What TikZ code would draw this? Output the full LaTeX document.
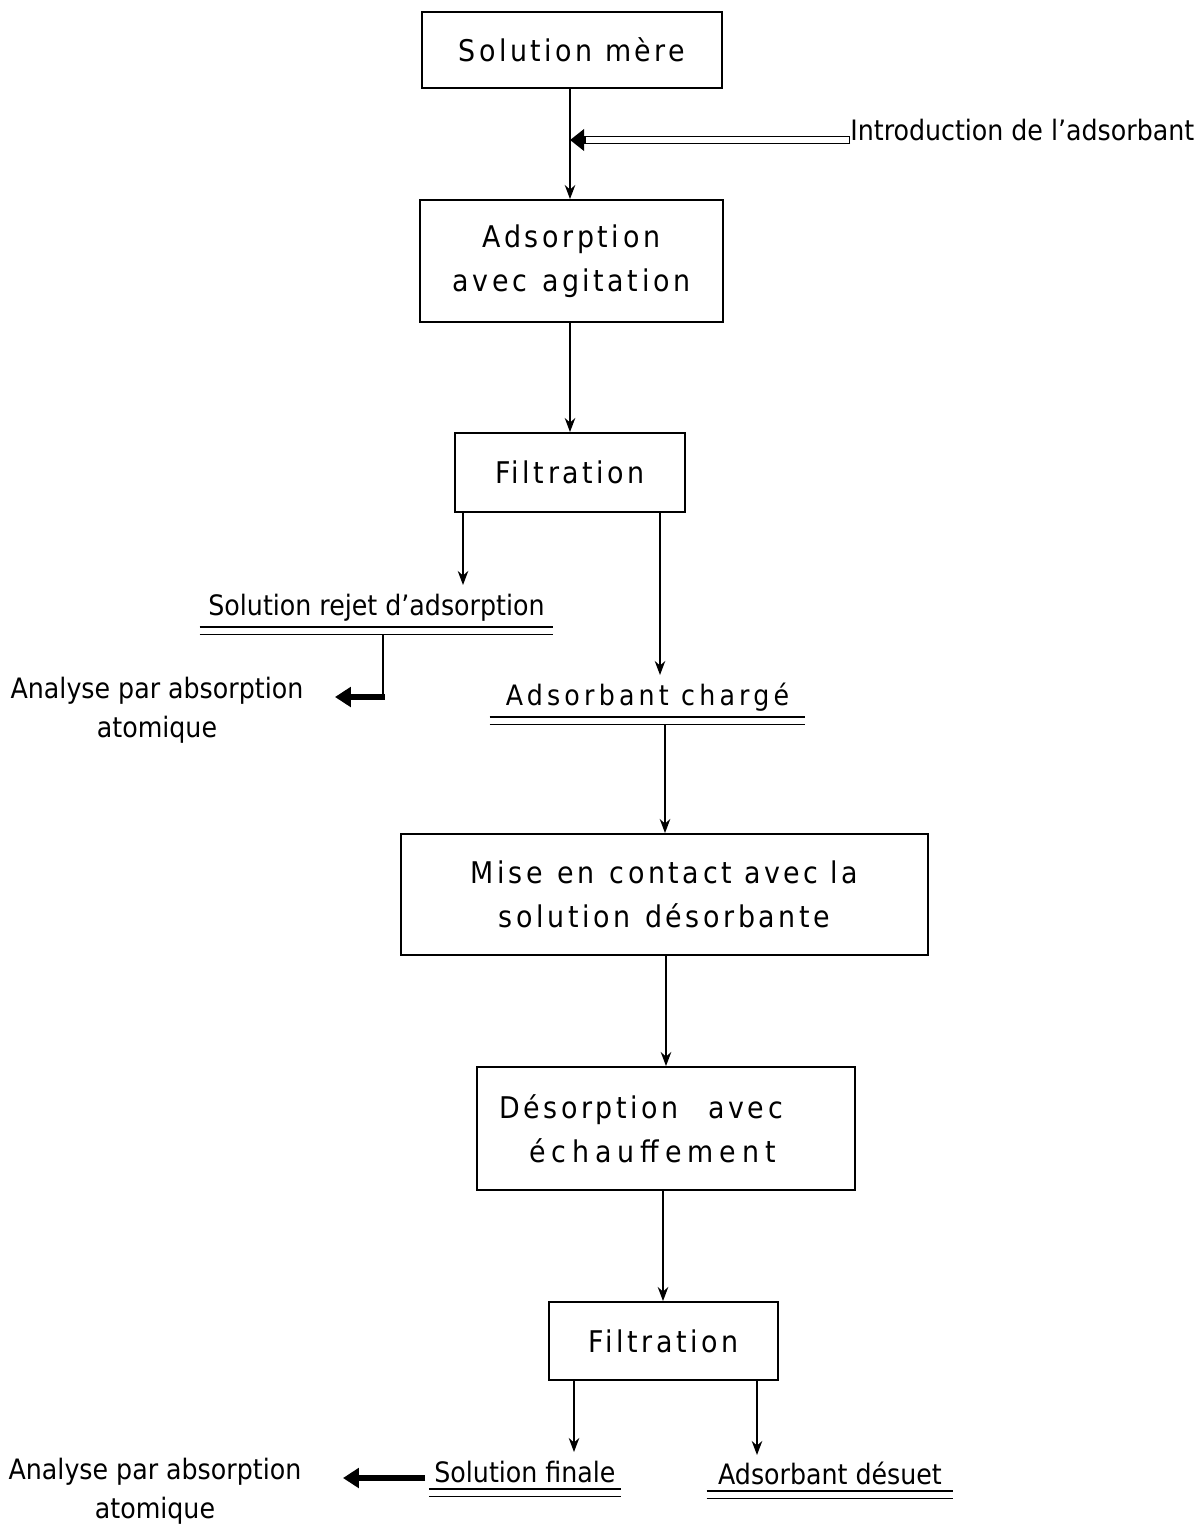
\documentclass[tikz,border=0pt]{standalone}
\usepackage{fontspec}
\setmainfont{DejaVu Sans Condensed}
\newfontfamily\stencil[LetterSpace=12]{DejaVu Sans Condensed}
\newfontfamily\spaced[LetterSpace=15]{DejaVu Sans Condensed}
\newfontfamily\wide[LetterSpace=20]{DejaVu Sans Condensed}
\usetikzlibrary{positioning}
\usetikzlibrary{arrows.meta}

\begin{document}
\begin{tikzpicture}
	[x=0.02cm,y=-0.02cm,
	stage/.style={draw=black,line width=1.1pt,inner sep=0pt,align=center,font=\stencil\fontsize{17}{25}\selectfont},
	product/.style={inner sep=3pt,anchor=south,font=\fontsize{16}{22}\selectfont},
	analysis/.style={align=center,inner sep=0pt,font=\fontsize{16}{22}\selectfont},
	flow/.style={draw=black,line width=0.7pt,-{Stealth[length=8pt,width=6pt]}},
	uline/.style={draw=black,line width=0.8pt},
	feed/.style={draw=black,line width=4.6pt,-{Triangle[length=8pt,width=12pt]}},
	feedcore/.style={draw=white,line width=3pt,shorten >=9pt,shorten <=0.8pt},
	result/.style={draw=black,line width=3pt,-{Triangle[length=9pt,width=11pt]}}]

	\useasboundingbox (0,0) rectangle (1199,1528);

	% Process steps
	\draw node at (572,50) [stage,minimum width=6cm,minimum height=1.52cm](mere){Solution mère}
		node at (571.5,261) [stage,minimum width=6.06cm,minimum height=2.44cm](adsorp){Adsorption\\avec\enspace agitation}
		node at (570,472.5) [stage,minimum width=4.6cm,minimum height=1.58cm](filtre){Filtration}
		node at (664.5,894.5) [stage,minimum width=10.54cm,minimum height=2.42cm](contact){Mise\enspace en\enspace contact avec la\\solution\enspace désorbante}
		node at (666,1128.5) [stage,align=left,minimum width=7.56cm,minimum height=2.46cm](desorp){Désorption\quad avec\hspace*{1cm}\\\hspace*{0.6cm}{\wide échauffement}}
		node at (663.5,1341) [stage,minimum width=4.58cm,minimum height=1.56cm](filtreb){Filtration};

	% Products (double underlined)
	\draw node at (376.5,627) [product,minimum width=7.06cm](rejet){Solution rejet d’adsorption}
		node at (647.5,717) [product,minimum width=6.3cm,font=\spaced\fontsize{16}{22}\selectfont](charge){Adsorbant chargé}
		node at (525,1489) [product,minimum width=3.8cm](finale){Solution finale}
		node at (830,1491) [product,minimum width=4.92cm](desuet){Adsorbant désuet};

	\foreach \n in {rejet,charge,finale,desuet}
	{
		\draw[uline] (\n.south west) -- (\n.south east);
		\draw[uline] ([yshift=-0.15cm]\n.south west) -- ([yshift=-0.15cm]\n.south east);
	}

	% Side texts
	\node at (850,130) [anchor=west,inner sep=0pt,font=\fontsize{16}{22}\selectfont](intro){Introduction de l’adsorbant};
	\node at (157,710) [analysis](analyseA){Analyse par absorption\\atomique};
	\node at (155,1491) [analysis](analyseB){Analyse par absorption\\atomique};

	\coordinate (joint) at (570,140);
	\coordinate (rejetin) at (463,585);
	\coordinate (chargein) at (660,675);
	\coordinate (finalein) at (574,1452);
	\coordinate (desuetin) at (757,1455);
	\coordinate (coude) at (383,697);
	\coordinate (tipA) at (335,697);
	\coordinate (tipB) at (343,1478);

	% Connectors
	\draw[flow] (mere.south -| joint) -- (adsorp.north -| joint);
	\draw[feed] (intro.west |- joint) -- (joint);
	\draw[feedcore] (intro.west |- joint) -- (joint);
	\draw[flow] (adsorp.south -| joint) -- (filtre.north -| joint);
	\draw[flow] (filtre.south -| rejetin) -- (rejetin);
	\draw[flow] (filtre.south -| chargein) -- (chargein);
	\draw[line width=0.9pt] ([yshift=-0.15cm]rejet.south -| coude) -- (coude);
	\draw[result] ([xshift=1pt]coude) -- (tipA);
	\draw[flow] ([yshift=-0.15cm]charge.south -| 665,0) -- (contact.north -| 665,0);
	\draw[flow] (contact.south -| 666,0) -- (desorp.north -| 666,0);
	\draw[flow] (desorp.south -| 663,0) -- (filtreb.north -| 663,0);
	\draw[flow] (filtreb.south -| finalein) -- (finalein);
	\draw[flow] (filtreb.south -| desuetin) -- (desuetin);
	\draw[result] (425,1478) -- (tipB);
\end{tikzpicture}
\end{document}
